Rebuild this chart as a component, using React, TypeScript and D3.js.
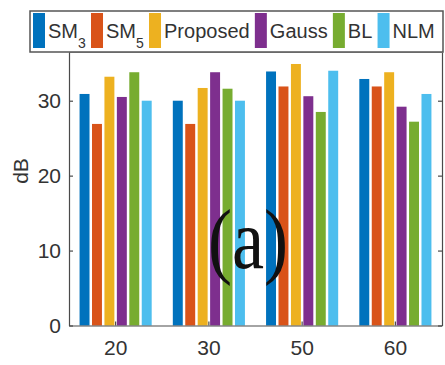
import { useEffect, useRef } from "react";
import { select, scaleBand, scaleLinear, axisLeft, axisBottom, axisRight } from "d3";

// Data
const groups = ["20", "30", "50", "60"];
const methods = ["SM3", "SM5", "Proposed", "Gauss", "BL", "NLM"];
const sm3 = [30.9, 30.0, 33.9, 32.9];
const sm5 = [26.9, 26.9, 31.9, 31.9];
const proposed = [33.2, 31.7, 34.9, 33.8];
const gauss = [30.5, 33.8, 30.6, 29.2];
const bl = [33.8, 31.6, 28.5, 27.2];
const nlm = [30.0, 30.0, 34.0, 30.9];
const yTicks = [0, 10, 20, 30];

const seriesValues = [sm3, sm5, proposed, gauss, bl, nlm];
const colors = ["#0072BD", "#D95319", "#EDB120", "#7E2F8E", "#77AC30", "#4DBEEE"];

const W = 445;
const H = 365;
const left = 69;
const right = 442;
const bottom = 325.5;
const top = 52;
const font = "'Liberation Sans', Arial, sans-serif";

const App = () => {
    const svgRef = useRef<SVGSVGElement>(null);

    useEffect(() => {
        const svg = select(svgRef.current);

        const x0 = scaleBand().domain(groups).range([left, right]);
        const x1 = scaleBand()
            .domain(methods)
            .range([0, x0.bandwidth() * 0.8])
            .paddingInner(0.2)
            .paddingOuter(0.1);
        const y = scaleLinear().domain([0, 36.5]).range([bottom, top]);

        // bars
        const barG = svg.select(".bars");
        barG.selectAll("g")
            .data(methods)
            .join("g")
            .attr("fill", (d, i) => colors[i])
            .selectAll("rect")
            .data((m, i) => seriesValues[i].map((v, j) => ({ m, v, g: groups[j] })))
            .join("rect")
            .attr("x", d => x0(d.g)! + x0.bandwidth() * 0.1 + x1(d.m)!)
            .attr("width", x1.bandwidth())
            .attr("y", d => y(d.v))
            .attr("height", d => y(0) - y(d.v));

        // axes
        const yAxis = axisLeft(y).tickValues(yTicks).tickSize(-4).tickSizeOuter(0).tickPadding(8);
        svg.select(".y-axis").attr("transform", `translate(${left},0)`).call(yAxis as any);

        const yAxisR = axisRight(y).tickValues(yTicks).tickSize(-4).tickSizeOuter(0).tickFormat(() => "");
        svg.select(".y-axis-r").attr("transform", `translate(${right},0)`).call(yAxisR as any);

        const xAxis = axisBottom(x0).tickSize(-4).tickSizeOuter(0).tickPadding(15);
        svg.select(".x-axis").attr("transform", `translate(0,${bottom})`).call(xAxis as any);

        svg.selectAll(".axis path, .axis line").attr("stroke", "#4a4a4a").attr("stroke-width", 1.2);
        svg.selectAll(".axis text")
            .attr("fill", "#333")
            .style("font-family", font)
            .style("font-size", "21px");

        // legend
        const legend = svg.select(".legend");
        const ctx = document.createElement("canvas").getContext("2d")!;
        const itemWidths = methods.map(m => {
            ctx.font = `20px ${font}`;
            const sub = m.match(/^SM(\d)$/);
            if (sub) {
                const main = ctx.measureText("SM").width;
                ctx.font = `14px ${font}`;
                return main + ctx.measureText(sub[1]).width;
            }
            return ctx.measureText(m).width;
        });
        const boxX = 30, boxY = 11, boxW = 413, boxH = 41;
        const sw = 12, swGap = 3;
        const used = itemWidths.reduce((a, b) => a + b + sw + swGap, 0);
        const gap = (boxW - 6 - used) / methods.length;
        let cx = boxX + 3;
        const items = methods.map((m, i) => {
            const pos = cx;
            cx += sw + swGap + itemWidths[i] + gap;
            return { m, pos, i };
        });

        legend.select("rect.frame")
            .attr("x", boxX).attr("y", boxY).attr("width", boxW).attr("height", boxH)
            .attr("fill", "white").attr("stroke", "#555").attr("stroke-width", 1.5);

        const it = legend.selectAll("g.item").data(items).join("g").attr("class", "item")
            .attr("transform", d => `translate(${d.pos},0)`);
        it.selectAll("rect").data(d => [d]).join("rect")
            .attr("x", 0).attr("y", 13).attr("width", sw).attr("height", 35)
            .attr("fill", d => colors[d.i]);
        it.selectAll("text").data(d => [d]).join("text")
            .attr("x", sw + swGap).attr("y", 38)
            .attr("fill", "#333")
            .style("font-family", font)
            .style("font-size", "20px")
            .each(function (d) {
                const t = select(this);
                t.selectAll("tspan").remove();
                const sub = d.m.match(/^SM(\d)$/);
                if (sub) {
                    t.append("tspan").text("SM");
                    t.append("tspan").attr("dy", 10).style("font-size", "14px").text(sub[1]);
                } else {
                    t.append("tspan").text(d.m);
                }
            });
    }, []);

    return (
        <svg ref={svgRef} width={W} height={H} style={{ position: "absolute", left: 0, top: 0, background: "white" }}>
            <g className="bars"></g>
            <g className="axis y-axis"></g>
            <g className="axis y-axis-r"></g>
            <g className="axis x-axis"></g>
            <line x1={left} x2={right} y1={top} y2={top} stroke="#4a4a4a" />
            <text
                transform={`translate(20,171) rotate(-90)`}
                textAnchor="middle"
                dominantBaseline="central"
                fill="#333"
                style={{ fontFamily: font, fontSize: "21px" }}
            >
                dB
            </text>
            <text
                transform="translate(248,268) scale(0.85,1)"
                textAnchor="middle"
                fill="#111"
                style={{ fontFamily: "'Liberation Serif', 'Times New Roman', serif", fontSize: "85px" }}
            >
                (a)
            </text>
            <g className="legend">
                <rect className="frame"></rect>
            </g>
        </svg>
    );
};

export default App;
